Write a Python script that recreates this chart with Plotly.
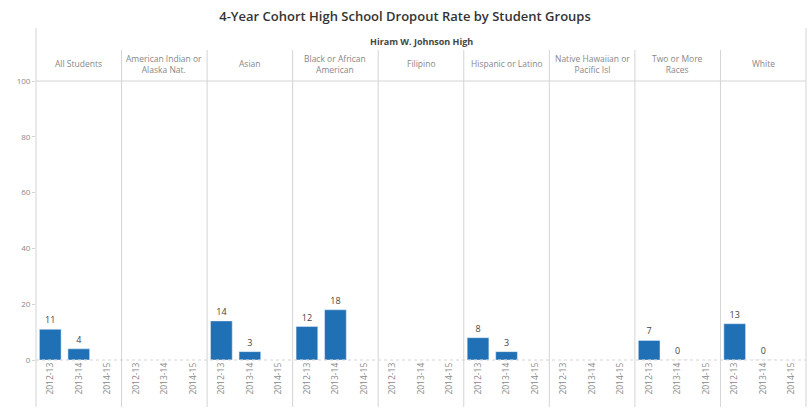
import plotly.graph_objects as go
from plotly.subplots import make_subplots

title = "4-Year Cohort High School Dropout Rate by Student Groups"
school = "Hiram W. Johnson High"
groups = ["All Students", "American Indian or<br>Alaska Nat.", "Asian", "Black or African<br>American",
          "Filipino", "Hispanic or Latino", "Native Hawaiian or<br>Pacific Isl", "Two or More<br>Races", "White"]
years = ["2012-13", "2013-14", "2014-15"]
all_students = [11, 4, None]
american_indian = [None, None, None]
asian = [14, 3, None]
black = [12, 18, None]
filipino = [None, None, None]
hispanic = [8, 3, None]
native_hawaiian = [None, None, None]
two_or_more = [7, 0, None]
white = [13, 0, None]
series = [all_students, american_indian, asian, black, filipino, hispanic, native_hawaiian, two_or_more, white]
y_ticks = [0, 20, 40, 60, 80, 100]

W, H = 810, 409
ML, MR, MT, MB = 36, 4, 81, 49
plot_h = H - MT - MB

def py(pix):
    return (H - MB - pix) / plot_h

n = len(groups)
fig = make_subplots(rows=1, cols=n, shared_yaxes=True, horizontal_spacing=0)
BAR = "#1f70b5"
GRID = "#d4d4d4"
TXT = "#888888"
for i, vals in enumerate(series):
    fig.add_trace(go.Bar(
        x=years, y=vals, marker_color=BAR, width=0.76,
        text=["" if v is None else str(v) for v in vals],
        textposition="outside", cliponaxis=False,
        textfont=dict(size=9, color="#444444", family="Open Sans"),
        showlegend=False, hoverinfo="x+y"), row=1, col=i + 1)
    fig.update_xaxes(row=1, col=i + 1, type="category", categoryorder="array", categoryarray=years,
                     range=[-0.5, 2.5], tickangle=-90, showgrid=False, showline=False, zeroline=False,
                     ticks="", tickfont=dict(size=8.5, color=TXT, family="Open Sans"))
fig.update_yaxes(range=[0, 100], tickvals=y_ticks, showgrid=False, zeroline=False, showline=False)
fig.update_yaxes(row=1, col=1, ticks="outside", ticklen=3, tickcolor=GRID,
                 tickfont=dict(size=8, color=TXT, family="Open Sans"))

shapes = []
shapes.append(dict(type="line", xref="paper", yref="paper", x0=0, x1=1, y0=1, y1=1,
                   line=dict(color=GRID, width=1)))
shapes.append(dict(type="line", xref="paper", yref="paper", x0=0, x1=1, y0=0, y1=0,
                   line=dict(color=GRID, width=1, dash="dot")))
for xx in (0, 1):
    shapes.append(dict(type="line", xref="paper", yref="paper", x0=xx, x1=xx, y0=py(28), y1=py(407),
                       line=dict(color=GRID, width=1)))
for i in range(1, n):
    shapes.append(dict(type="line", xref=f"x{i+1} domain", yref="paper", x0=0, x1=0,
                       y0=py(50), y1=py(407), line=dict(color=GRID, width=1)))

annotations = [dict(text="<b>" + school + "</b>", xref="paper", yref="paper", x=0.5, y=py(42),
                    yanchor="middle", showarrow=False,
                    font=dict(size=9, color="#444444", family="Open Sans"))]
for i, g in enumerate(groups):
    annotations.append(dict(text=g, xref=f"x{'' if i == 0 else i+1} domain", yref="paper", x=0.5, y=py(64),
                            yanchor="middle", showarrow=False,
                            font=dict(size=8.5, color=TXT, family="Open Sans")))

fig.update_layout(
    width=W, height=H, margin=dict(l=ML, r=MR, t=MT, b=MB),
    paper_bgcolor="white", plot_bgcolor="white",
    title=dict(text=title, x=0.5, xanchor="center", y=1 - 16 / H, yanchor="middle",
               font=dict(size=13, color="#333333", family="Open Sans", weight=600)),
    shapes=shapes, annotations=annotations, bargap=0.2,
)
fig.write_html("out.html")
